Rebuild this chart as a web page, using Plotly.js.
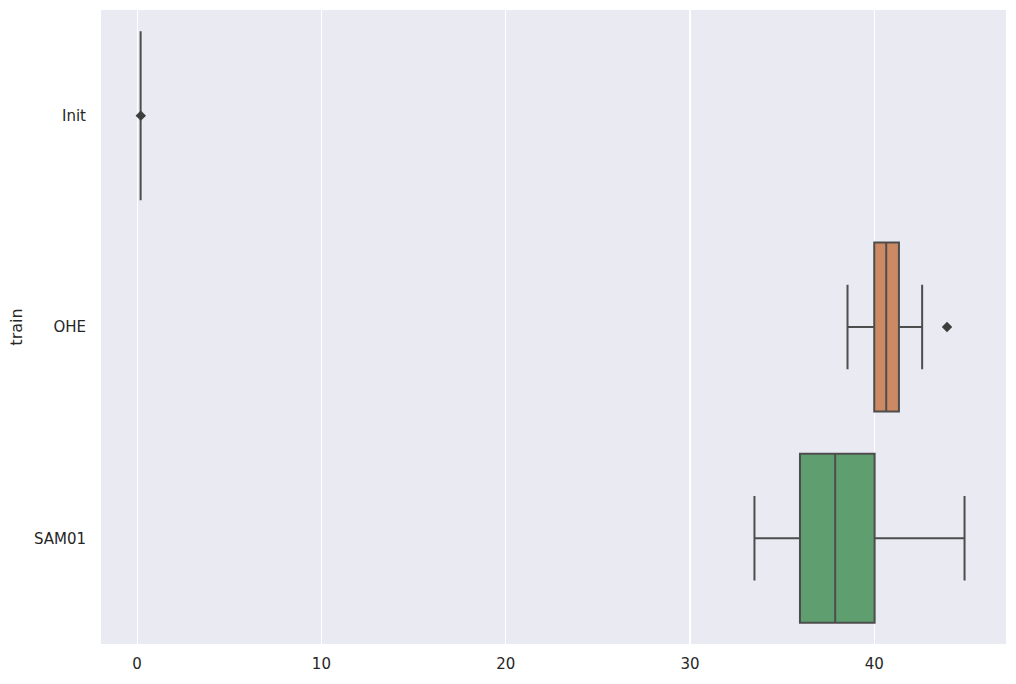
<!DOCTYPE html>
<html>
<head>
<meta charset="utf-8">
<script src="https://cdn.plot.ly/plotly-3.0.1.min.js"></script>
<style>html,body{margin:0;padding:0;background:#fff;}#chart{width:1016px;height:684px;}</style>
</head>
<body>
<div id="chart"></div>
<script>
const categories = ["Init", "OHE", "SAM01"];
const q1 = [0.19, 40.0, 35.97];
const medians = [0.19, 40.65, 37.88];
const q3 = [0.19, 41.34, 40.02];
const lowerWhisker = [0.19, 38.55, 33.5];
const upperWhisker = [0.19, 42.6, 44.9];
const outlierCats = ["Init", "OHE"];
const outlierValues = [0.2, 43.95];
const colors = ["#5975a4", "#cc8963", "#5f9e6e"];

const lineColor = "#4d4d4d";
const traces = categories.map((c, i) => ({
  type: "box",
  orientation: "h",
  y: [c],
  q1: [q1[i]],
  median: [medians[i]],
  q3: [q3[i]],
  lowerfence: [lowerWhisker[i]],
  upperfence: [upperWhisker[i]],
  fillcolor: colors[i],
  line: {color: lineColor, width: 2},
  whiskerwidth: 0.5,
  width: 0.8,
  boxpoints: false,
  hoverinfo: "skip",
  showlegend: false
}));
traces.push({
  type: "scatter",
  mode: "markers",
  x: outlierValues,
  y: outlierCats,
  marker: {symbol: "diamond", size: 8, color: "#3d3d3d", line: {width: 0}},
  hoverinfo: "skip",
  showlegend: false
});

const layout = {
  width: 1016,
  height: 684,
  margin: {l: 101, r: 10, t: 10, b: 40},
  paper_bgcolor: "#ffffff",
  plot_bgcolor: "#eaeaf2",
  font: {family: "DejaVu Sans", size: 15, color: "#262626"},
  boxmode: "overlay",
  xaxis: {
    range: [-1.96, 47.15],
    tickvals: [0, 10, 20, 30, 40],
    ticktext: ["0", "10", "20", "30", "40"],
    showgrid: true,
    gridcolor: "#ffffff",
    gridwidth: 1.2,
    zeroline: false,
    showline: false,
    ticks: "outside",
    ticklen: 6,
    tickcolor: "rgba(0,0,0,0)",
    tickfont: {size: 15, color: "#262626"}
  },
  yaxis: {
    type: "category",
    categoryorder: "array",
    categoryarray: categories,
    range: [2.5, -0.5],
    showgrid: false,
    zeroline: false,
    showline: false,
    ticks: "outside",
    ticklen: 11,
    tickcolor: "rgba(0,0,0,0)",
    tickfont: {size: 15, color: "#262626"},
    title: {text: "train", font: {size: 16, color: "#262626"}, standoff: 7}
  }
};

Plotly.newPlot("chart", traces, layout, {staticPlot: true, displayModeBar: false});
</script>
</body>
</html>
